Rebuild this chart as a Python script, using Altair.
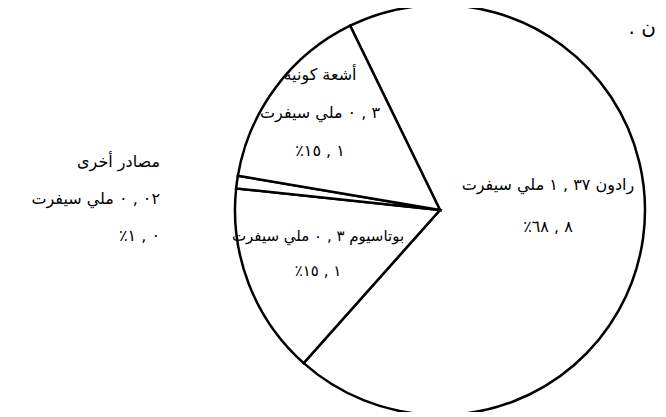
import math
import altair as alt
import pandas as pd

# ---- data ----
names = ["radon", "potassium", "other", "cosmic"]
percent = [68.8, 15.1, 1.0, 15.1]          # share of the annual dose, %
dose_msv = [1.37, 0.3, 0.02, 0.3]           # millisievert
order = [1, 2, 3, 4]                        # clockwise order from the top

RLE, PDF, LRM = "\u202b", "\u202c", "\u200e"


def num(a, b):
    """Arabic-Indic decimal written with a spaced comma, kept left-to-right."""
    return a + LRM + " , " + LRM + b


def rtl(line):
    return RLE + line + PDF


label_lines = [
    ["رادون " + num("١", "٣٧") + " ملي سيفرت", num("٦٨", "٨") + "٪"],
    ["بوتاسيوم " + num("٠", "٣") + " ملي سيفرت", num("١٥", "١") + "٪"],
    ["مصادر أخرى", num("٠", "٠٢") + " ملي سيفرت", num("١", "٠") + "٪"],
    ["أشعة كونية", num("٠", "٣") + " ملي سيفرت", num("١٥", "١") + "٪"],
]
labels = ["\n".join(rtl(l) for l in lines) for lines in label_lines]

corner_text = LRM + "." + LRM + " " + LRM + "ن" + LRM

df = pd.DataFrame({
    "name": names,
    "percent": percent,
    "dose": dose_msv,
    "order": order,
    "label": labels,
})
total = float(sum(percent))

# ---- styling ----
FONT = "DejaVu Sans"
START = math.radians(-26)
R = 205
theta_scale = alt.Scale(domain=[0, total], range=[START, START + 2 * math.pi])

base = (
    alt.Chart(df)
    .transform_window(cum="sum(percent)", sort=[alt.SortField("order")])
    .transform_calculate(start="datum.cum - datum.percent",
                         mid="datum.cum - datum.percent / 2")
)

pie = base.mark_arc(fill="white", stroke="black", strokeWidth=2.5, radius=R).encode(
    theta=alt.Theta("start:Q", scale=theta_scale, stack=False),
    theta2="cum:Q",
)


def label_layer(name, r, dy, align, line_height, size=16):
    return (
        base.transform_filter(alt.datum.name == name)
        .mark_text(radius=r, dy=dy, align=align, baseline="middle",
                   font=FONT, fontSize=size, lineHeight=line_height, lineBreak="\n",
                   color="black")
        .encode(theta=alt.Theta("mid:Q", scale=theta_scale, stack=False),
                text="label:N")
    )


layers = [
    pie,
    label_layer("radon", 109, -40, "center", 42),
    label_layer("potassium", 130.8, -21, "center", 35, 15),
    label_layer("other", 282.6, -9.5, "right", 37),
    label_layer("cosmic", 149.9, -45, "center", 38),
]

corner = alt.Chart(pd.DataFrame({"t": [corner_text]})).mark_text(
    align="right", baseline="middle", font=FONT, fontSize=20, color="black"
).encode(x=alt.value(421), y=alt.value(20), text="t:N")
layers.append(corner)

chart = (
    alt.layer(*layers)
    .properties(width=410, height=404, autosize="none",
                padding={"left": 227, "top": 0, "right": 13, "bottom": 0},
                background="white")
    .configure_view(stroke=None)
)

chart.save("out.html", embed_options={"renderer": "svg", "actions": False})
